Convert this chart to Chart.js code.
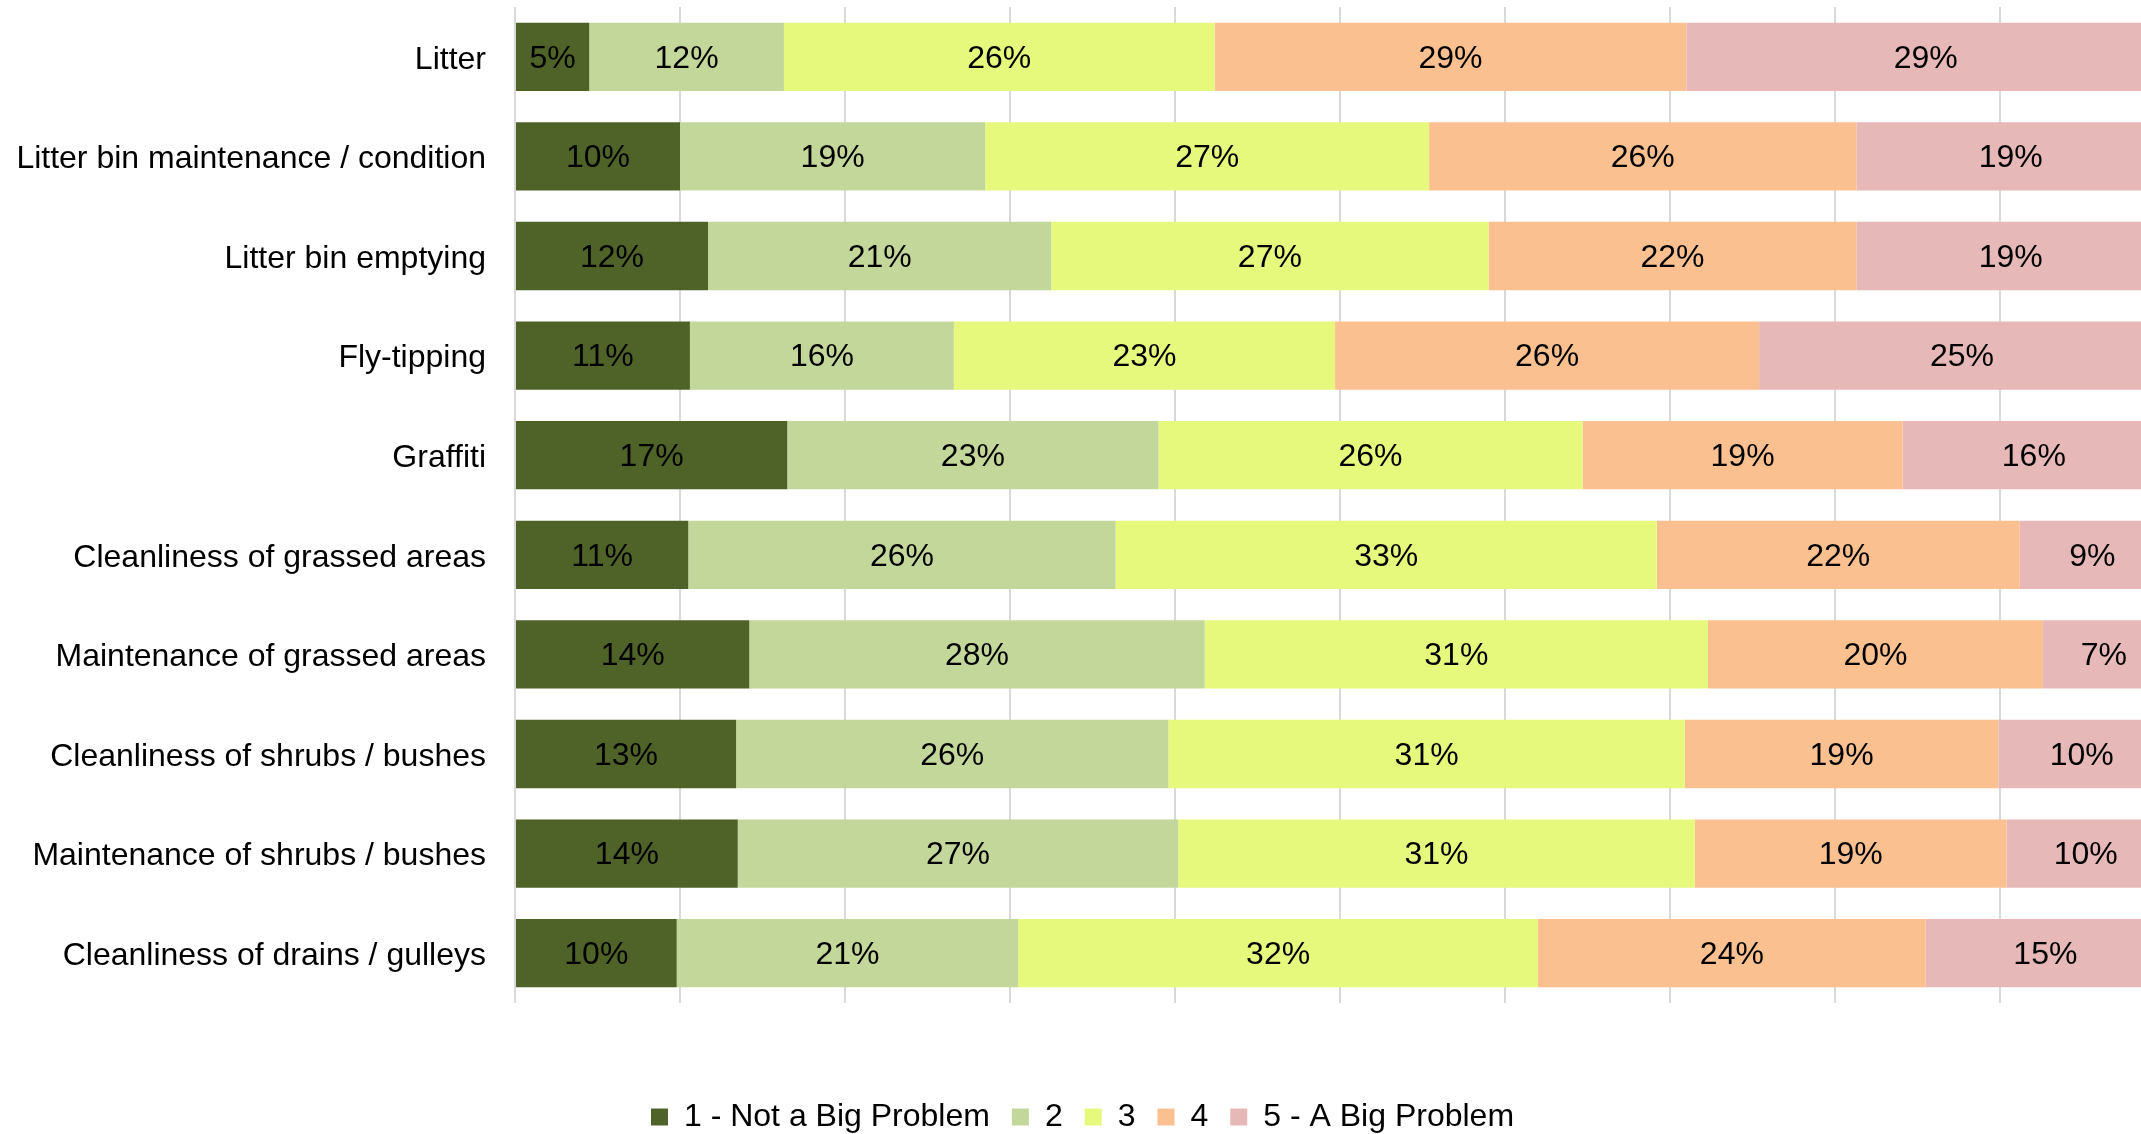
<!DOCTYPE html>
<html>
<head>
<meta charset="utf-8">
<script src="https://cdn.jsdelivr.net/npm/chart.js@4"></script>
<style>
  html, body { margin: 0; padding: 0; overflow: hidden; background: #fff; }
  #wrap { position: absolute; left: 0; top: 0; width: 2165px; height: 1143px; }
</style>
</head>
<body>
<div id="wrap"><canvas id="chart"></canvas></div>
<script>
const categories = [
    'Litter',
    'Litter bin maintenance / condition',
    'Litter bin emptying',
    'Fly-tipping',
    'Graffiti',
    'Cleanliness of grassed areas',
    'Maintenance of grassed areas',
    'Cleanliness of shrubs / bushes',
    'Maintenance of shrubs / bushes',
    'Cleanliness of drains / gulleys'
];
const seriesNames = ['1 - Not a Big Problem', '2', '3', '4', '5 - A Big Problem'];
const notBig = [4.5, 10.0, 11.7, 10.6, 16.5, 10.5, 14.2, 13.4, 13.5, 9.8];
const two = [11.8, 18.5, 20.8, 16.0, 22.5, 25.9, 27.6, 26.2, 26.7, 20.7];
const three = [26.1, 26.9, 26.5, 23.1, 25.7, 32.8, 30.5, 31.3, 31.3, 31.5];
const four = [28.6, 25.9, 22.3, 25.7, 19.4, 22.0, 20.3, 19.0, 18.9, 23.5];
const bigProblem = [29.0, 18.7, 18.7, 24.6, 15.9, 8.8, 7.4, 10.1, 9.6, 14.5];
const xMin = 0;
const xMax = 100;
const xStep = 10;

const colors = ['#4F6228', '#C4D79B', '#E6F97D', '#FAC090', '#E6B8B7'];
const series = [notBig, two, three, four, bigProblem];

Chart.defaults.font.family = '"Liberation Sans", Arial, sans-serif';
Chart.defaults.font.size = 32;
Chart.defaults.color = '#000000';

// percent labels in the middle of each segment
const barLabels = {
    id: 'barLabels',
    afterDatasetsDraw(chart) {
        const ctx = chart.ctx;
        ctx.save();
        ctx.font = '32px "Liberation Sans", Arial, sans-serif';
        ctx.fillStyle = '#000000';
        ctx.textAlign = 'center';
        ctx.textBaseline = 'middle';
        chart.data.datasets.forEach((ds, i) => {
            const meta = chart.getDatasetMeta(i);
            meta.data.forEach((bar, j) => {
                const cx = (bar.x + bar.base) / 2;
                ctx.fillText(Math.round(ds.data[j]) + '%', cx, bar.y + 2);
            });
        });
        ctx.restore();
    }
};

const ctx = document.getElementById('chart').getContext('2d');
const myChart = new Chart(ctx, {
    type: 'bar',
    data: {
        labels: categories,
        datasets: series.map((vals, i) => ({
            label: seriesNames[i],
            data: vals,
            backgroundColor: colors[i],
            borderWidth: 0,
            categoryPercentage: 1,
            barPercentage: 0.686
        }))
    },
    options: {
        indexAxis: 'y',
        responsive: true,
        maintainAspectRatio: false,
        animation: false,
        layout: { padding: { top: 7, left: 0, right: 0, bottom: 0 } },
        scales: {
            x: {
                stacked: true,
                min: xMin,
                max: xMax,
                ticks: { display: false, stepSize: xStep },
                grid: { color: '#D9D9D9', lineWidth: 2, drawTicks: false },
                border: { display: false },
                afterFit(scale) {
                    scale.height = 76;
                    scale.paddingLeft = 0;
                    scale.paddingRight = 0;
                }
            },
            y: {
                stacked: true,
                grid: { display: false, drawTicks: false },
                border: { display: false },
                ticks: { padding: 29, labelOffset: 3, color: '#000000', font: { size: 32 } },
                afterFit(scale) {
                    scale.width = 515;
                    scale.paddingTop = 0;
                    scale.paddingBottom = 0;
                }
            }
        },
        plugins: {
            legend: {
                position: 'bottom',
                labels: {
                    boxWidth: 17,
                    boxHeight: 17,
                    padding: 22,
                    color: '#000000',
                    font: { size: 32 }
                }
            },
            tooltip: { enabled: false }
        }
    },
    plugins: [barLabels]
});
</script>
</body>
</html>
